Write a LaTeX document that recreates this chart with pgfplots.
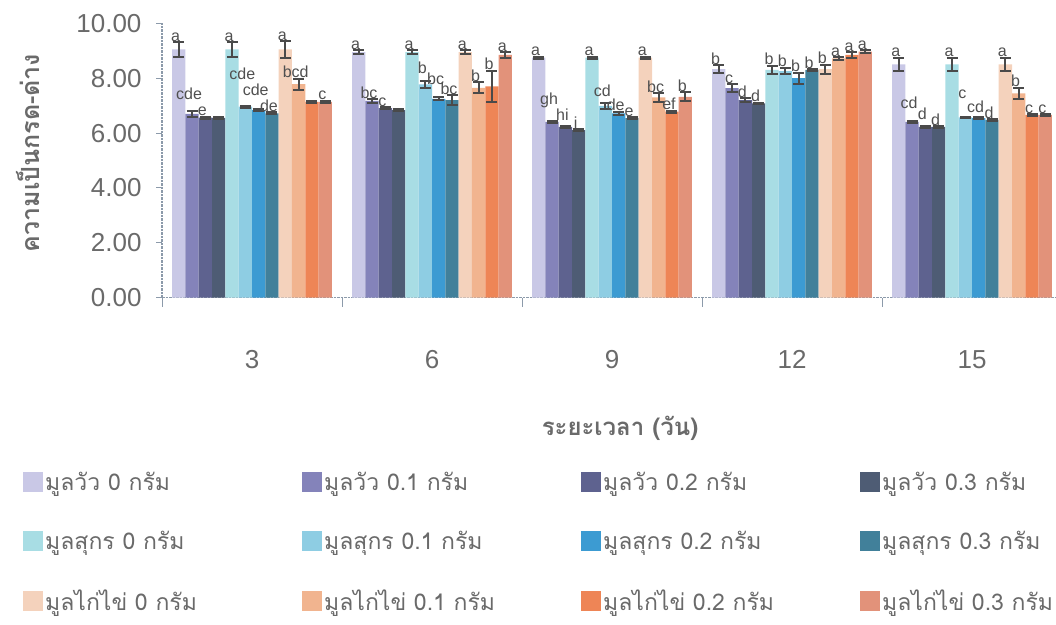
\documentclass[border=0pt]{standalone}
\usepackage{pgfplots}
\usepackage{pgfplotstable}
\pgfplotsset{compat=1.18}
\usepackage{fontspec}
\setmainfont{Liberation Sans}
\newfontfamily\thai[Script=Thai]{Loma}
\definecolor{cA}{HTML}{C9C8E6}
\definecolor{cB}{HTML}{8483BA}
\definecolor{cC}{HTML}{5E628F}
\definecolor{cD}{HTML}{4E5C74}
\definecolor{pA}{HTML}{A8DDE4}
\definecolor{pB}{HTML}{8ECDE3}
\definecolor{pC}{HTML}{3C9BD2}
\definecolor{pD}{HTML}{41809A}
\definecolor{kA}{HTML}{F4D2BC}
\definecolor{kB}{HTML}{F1B48F}
\definecolor{kC}{HTML}{EE8556}
\definecolor{kD}{HTML}{E2927A}
\definecolor{axisc}{HTML}{8C9AAA}
\definecolor{tickc}{HTML}{6A6A6A}
\definecolor{errc}{HTML}{4A4A4A}
\definecolor{labc}{HTML}{505050}

% columns: x (group), y (value), e (error), lab (letter), d (extra label lift, pt)
\pgfplotstableread{
x y e lab d
0 9.05 0.27 a 0
1 8.95 0.08 a 0
2 8.75 0.04 a 0
3 8.33 0.15 b 0
4 8.50 0.25 a 0
}\tcA
\pgfplotstableread{
x y e lab d
0 6.70 0.12 cde 10
1 7.17 0.06 bc 0
2 6.41 0.03 gh 12
3 7.64 0.14 c 0
4 6.41 0.03 cd 12
}\tcB
\pgfplotstableread{
x y e lab d
0 6.56 0.04 e 0
1 6.91 0.03 c 0
2 6.23 0.03 hi 5
3 7.20 0.08 d 0
4 6.23 0.03 d 6
}\tcC
\pgfplotstableread{
x y e lab d
0 6.55 0.03 {} 0
1 6.84 0.03 {} 0
2 6.11 0.03 i 0
3 7.08 0.03 d 0
4 6.23 0.03 d 0
}\tcD
\pgfplotstableread{
x y e lab d
0 9.05 0.27 a 0
1 8.95 0.08 a 0
2 8.75 0.04 a 0
3 8.30 0.15 b 0
4 8.50 0.25 a 0
}\tpA
\pgfplotstableread{
x y e lab d
0 6.96 0.04 cde 25
1 7.77 0.14 b 6
2 6.99 0.10 cd 6
3 8.26 0.12 b 0
4 6.57 0.03 c 17
}\tpB
\pgfplotstableread{
x y e lab d
0 6.84 0.04 cde 13
1 7.25 0.05 bc 12
2 6.72 0.06 de 0
3 8.00 0.20 b 0
4 6.54 0.03 cd 4
}\tpC
\pgfplotstableread{
x y e lab d
0 6.72 0.03 de 0
1 7.20 0.18 bc 0
2 6.54 0.04 e 0
3 8.30 0.04 b 0
4 6.48 0.03 d 0
}\tpD
\pgfplotstableread{
x y e lab d
0 9.05 0.30 a 0
1 8.95 0.08 a 0
2 8.75 0.04 a 0
3 8.33 0.16 b 0
4 8.50 0.25 a 0
}\tkA
\pgfplotstableread{
x y e lab d
0 7.78 0.20 bcd 0
1 7.65 0.20 b 0
2 7.30 0.15 bc 0
3 8.72 0.04 a 0
4 7.45 0.20 b 0
}\tkB
\pgfplotstableread{
x y e lab d
0 7.14 0.04 {} 0
1 7.70 0.58 b 0
2 6.78 0.04 ef 0
3 8.85 0.10 a 0
4 6.66 0.03 c 0
}\tkC
\pgfplotstableread{
x y e lab d
0 7.14 0.04 c 0
1 8.85 0.10 a 0
2 7.32 0.16 b 0
3 8.97 0.04 a 0
4 6.66 0.03 c 0
}\tkD

\newcommand{\legtext}[1]{\makebox[247pt][l]{\thai #1}}

\begin{document}
\begin{tikzpicture}
\begin{axis}[
  at={(162pt,-297.7pt)}, anchor=south west,
  x=180pt, y=27.44pt,
  xmin=-0.5, xmax=4.467, ymin=0, ymax=10,
  clip=false,
  ybar=0pt, bar width=13.33pt,
  axis lines*=left,
  axis line style={draw=axisc, line width=1.2pt, dash pattern=on 2.5pt off 1pt},
  tick align=outside,
  major tick length=6pt,
  minor tick length=9pt,
  ytick={0,2,4,6,8,10},
  ytick style={draw=axisc, line width=1pt},
  xtick={0,1,2,3,4},
  xticklabels={3,6,9,12,15},
  major x tick style={draw=none},
  minor xtick={-0.5,0.5,1.5,2.5,3.5},
  minor x tick style={draw=axisc, line width=1pt},
  /pgf/number format/assume math mode=true,
  yticklabel style={/pgf/number format/.cd, fixed, fixed zerofill, precision=2, /tikz/.cd,
    font=\fontsize{26}{26}\selectfont, text=tickc, xshift=-11pt},
  xticklabel style={font=\fontsize{26}{26}\selectfont, text=tickc, anchor=center, yshift=-56pt},
  nodes near coords,
  point meta=explicit symbolic,
  visualization depends on={\thisrow{e} \as \err},
  visualization depends on={\thisrow{d} \as \dlift},
  every node near coord/.append style={font=\fontsize{16}{16}\selectfont, text=labc,
    anchor=south, inner sep=0.5pt, xshift=-3pt, yshift=\err*27.44pt+\dlift*1pt},
  every axis plot post/.append style={
    legend image code/.code={\fill[##1] (0pt,-10pt) rectangle (20pt,10pt);}},
  mybar/.style={fill=#1, draw=none,
    error bars/y dir=both, error bars/y explicit,
    error bars/error bar style={line width=2pt, color=errc},
    error bars/error mark options={rotate=90, mark size=5.5pt, line width=2pt, color=errc}},
  legend columns=4,
  legend cell align=left,
  legend style={at={(axis description cs:-0.1588,-0.627)}, anchor=north west,
    draw=none, fill=none, font=\fontsize{23}{23}\selectfont, text=tickc,
    nodes={inner ysep=0.5pt},
    row sep=38pt,
    /tikz/every even column/.append style={column sep=8pt}},
]
\addplot[mybar=cA] table[x=x,y=y,y error=e,meta=lab] {\tcA};
\addlegendentry{\legtext{มูลวัว 0 กรัม}}
\addplot[mybar=cB] table[x=x,y=y,y error=e,meta=lab] {\tcB};
\addlegendentry{\legtext{มูลวัว 0.1 กรัม}}
\addplot[mybar=cC] table[x=x,y=y,y error=e,meta=lab] {\tcC};
\addlegendentry{\legtext{มูลวัว 0.2 กรัม}}
\addplot[mybar=cD] table[x=x,y=y,y error=e,meta=lab] {\tcD};
\addlegendentry{\legtext{มูลวัว 0.3 กรัม}}
\addplot[mybar=pA] table[x=x,y=y,y error=e,meta=lab] {\tpA};
\addlegendentry{\legtext{มูลสุกร 0 กรัม}}
\addplot[mybar=pB] table[x=x,y=y,y error=e,meta=lab] {\tpB};
\addlegendentry{\legtext{มูลสุกร 0.1 กรัม}}
\addplot[mybar=pC] table[x=x,y=y,y error=e,meta=lab] {\tpC};
\addlegendentry{\legtext{มูลสุกร  0.2 กรัม}}
\addplot[mybar=pD] table[x=x,y=y,y error=e,meta=lab] {\tpD};
\addlegendentry{\legtext{มูลสุกร 0.3 กรัม}}
\addplot[mybar=kA] table[x=x,y=y,y error=e,meta=lab] {\tkA};
\addlegendentry{\legtext{มูลไก่ไข่ 0 กรัม}}
\addplot[mybar=kB] table[x=x,y=y,y error=e,meta=lab] {\tkB};
\addlegendentry{\legtext{มูลไก่ไข่ 0.1 กรัม}}
\addplot[mybar=kC] table[x=x,y=y,y error=e,meta=lab] {\tkC};
\addlegendentry{\legtext{มูลไก่ไข่  0.2 กรัม}}
\addplot[mybar=kD] table[x=x,y=y,y error=e,meta=lab] {\tkD};
\addlegendentry{\legtext{มูลไก่ไข่  0.3 กรัม}}
\end{axis}
\node[rotate=90, font=\thai\bfseries\fontsize{25}{25}\selectfont, text=tickc] at (28pt,-153pt) {ความเป็นกรด-ด่าง};
\node[font=\thai\bfseries\fontsize{24}{24}\selectfont, text=tickc] at (620pt,-428pt) {ระยะเวลา (วัน)};
\pgfresetboundingbox
\useasboundingbox (0pt,0pt) rectangle (1056pt,-624pt);
\end{tikzpicture}
\end{document}
